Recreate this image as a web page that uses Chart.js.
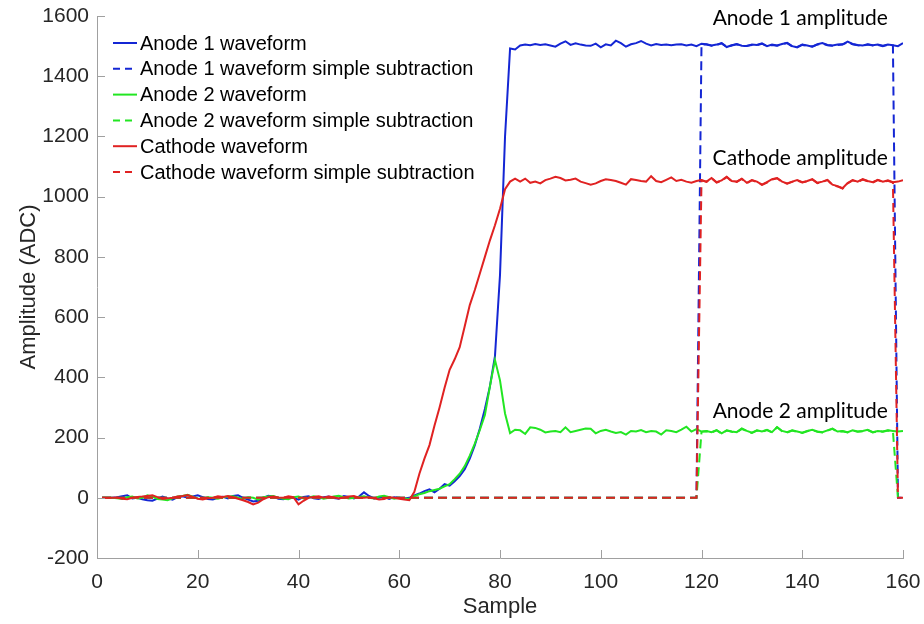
<!DOCTYPE html>
<html>
<head>
<meta charset="utf-8">
<script src="https://cdn.jsdelivr.net/npm/chart.js@4/dist/chart.umd.min.js"></script>
<style>
  html, body { margin: 0; padding: 0; background: #ffffff; }
  #wrap { width: 924px; height: 624px; }
</style>
</head>
<body>
<div id="wrap"><canvas id="c" width="924" height="624"></canvas></div>
<script>
// Sample index along the x axis (1..160)
const samples = Array.from({ length: 160 }, (_, i) => i + 1);

const xTicks = [0, 20, 40, 60, 80, 100, 120, 140, 160];
const yTicks = [-200, 0, 200, 400, 600, 800, 1000, 1200, 1400, 1600];

const seriesNames = [
  'Anode 1 waveform',
  'Anode 1 waveform simple subtraction',
  'Anode 2 waveform',
  'Anode 2 waveform simple subtraction',
  'Cathode waveform',
  'Cathode waveform simple subtraction'
];

// Anode 1 waveform (ADC)
const anode1 = [
  0, 0, 0, 2, 5, 8, -2, 0, -5, -8,
  -10, -3, 4, -2, -6, 2, 5, 0, 4, 8,
  2, -4, -6, 0, 3, -2, 6, 8, 0, -6,
  -12, -10, 0, 7, 4, -3, -5, 2, 0, -6,
  3, 5, -2, -4, 2, 4, -1, -3, 6, 3,
  -2, 4, 18, 6, -2, 0, 3, -4, 2, 0,
  -2, 0, 8, 14, 22, 28, 18, 30, 45, 40,
  55, 72, 95, 130, 175, 230, 295, 370, 470, 740,
  1200, 1492, 1489, 1502, 1505, 1503, 1507, 1504, 1506, 1502,
  1498, 1508, 1516, 1504, 1509, 1505, 1502, 1501, 1508, 1496,
  1506, 1502, 1518, 1510, 1498, 1506, 1510, 1517, 1508, 1502,
  1507, 1504, 1505, 1503, 1505, 1506, 1502, 1505, 1500, 1508,
  1506, 1502, 1505, 1510, 1497, 1503, 1507, 1501, 1500, 1505,
  1504, 1509, 1500, 1505, 1502, 1507, 1511, 1500, 1496, 1505,
  1502, 1498, 1506, 1510, 1504, 1502, 1505, 1506, 1515, 1507,
  1504, 1502, 1506, 1503, 1505, 1501, 1505, 1503, 1500, 1510
];

// Anode 1 after simple baseline subtraction (ADC)
const anode1Sub = [
  0, 0, 0, 0, 0, 0, 0, 0, 0, 0,
  0, 0, 0, 0, 0, 0, 0, 0, 0, 0,
  0, 0, 0, 0, 0, 0, 0, 0, 0, 0,
  0, 0, 0, 0, 0, 0, 0, 0, 0, 0,
  0, 0, 0, 0, 0, 0, 0, 0, 0, 0,
  0, 0, 0, 0, 0, 0, 0, 0, 0, 0,
  0, 0, 0, 0, 0, 0, 0, 0, 0, 0,
  0, 0, 0, 0, 0, 0, 0, 0, 0, 0,
  0, 0, 0, 0, 0, 0, 0, 0, 0, 0,
  0, 0, 0, 0, 0, 0, 0, 0, 0, 0,
  0, 0, 0, 0, 0, 0, 0, 0, 0, 0,
  0, 0, 0, 0, 0, 0, 0, 0, 0, 1506,
  1505, 1501, 1504, 1509, 1498, 1502, 1506, 1500, 1501, 1504,
  1503, 1508, 1500, 1504, 1501, 1506, 1510, 1499, 1497, 1504,
  1501, 1499, 1505, 1509, 1503, 1501, 1504, 1505, 1513, 1506,
  1503, 1501, 1505, 1502, 1504, 1500, 1504, 1502, 0, 0
];

// Anode 2 waveform (ADC)
const anode2 = [
  0, 0, 0, -2, -4, 2, 4, -2, 0, 8,
  4, -4, -6, -8, -2, 4, 6, 10, 4, -2,
  -4, 2, 0, -3, 2, 4, 5, 0, -4, 2,
  0, -6, 2, 4, 6, 0, -3, -5, 2, 4,
  -2, 0, 5, 2, -3, 0, 4, 7, 2, -2,
  0, 3, 5, 0, -2, 4, 7, 2, -3, 0,
  -2, -4, 5, 12, 16, 22, 26, 30, 38, 45,
  62, 80, 105, 140, 180, 225, 275, 370, 458, 390,
  280, 215, 226, 224, 212, 234, 232, 226, 217, 220,
  222, 218, 234, 218, 222, 226, 230, 229, 214, 222,
  226, 220, 215, 218, 210, 222, 220, 225, 218, 222,
  220, 210, 224, 222, 218, 226, 236, 220, 228, 220,
  222, 218, 225, 214, 224, 220, 218, 230, 222, 216,
  224, 220, 226, 218, 235, 222, 218, 224, 220, 216,
  222, 226, 220, 218, 224, 230, 220, 222, 218, 224,
  220, 222, 226, 218, 222, 220, 224, 222, 220, 222
];

// Anode 2 after simple baseline subtraction (ADC)
const anode2Sub = [
  0, 0, 0, 0, 0, 0, 0, 0, 0, 0,
  0, 0, 0, 0, 0, 0, 0, 0, 0, 0,
  0, 0, 0, 0, 0, 0, 0, 0, 0, 0,
  0, 0, 0, 0, 0, 0, 0, 0, 0, 0,
  0, 0, 0, 0, 0, 0, 0, 0, 0, 0,
  0, 0, 0, 0, 0, 0, 0, 0, 0, 0,
  0, 0, 0, 0, 0, 0, 0, 0, 0, 0,
  0, 0, 0, 0, 0, 0, 0, 0, 0, 0,
  0, 0, 0, 0, 0, 0, 0, 0, 0, 0,
  0, 0, 0, 0, 0, 0, 0, 0, 0, 0,
  0, 0, 0, 0, 0, 0, 0, 0, 0, 0,
  0, 0, 0, 0, 0, 0, 0, 0, 0, 219,
  221, 217, 224, 213, 223, 219, 217, 229, 221, 215,
  223, 219, 225, 217, 234, 221, 217, 223, 219, 215,
  221, 225, 219, 217, 223, 229, 219, 221, 217, 223,
  219, 221, 225, 217, 221, 219, 223, 221, 0, 0
];

// Cathode waveform (ADC)
const cathode = [
  0, 0, 0, 1, -3, -5, 0, 3, 4, 6,
  8, 2, -4, -2, 0, 4, 6, 9, 3, -3,
  -6, -2, 0, 5, 3, 6, 2, -3, -8, -14,
  -22, -16, -5, 2, 4, 1, 0, 5, 2, -22,
  -10, 0, 3, 5, 0, 4, 2, -2, 1, 4,
  6, 0, 0, 2, -2, -6, -4, 2, 0, -3,
  -6, -8, 20, 80, 130, 175, 240, 300, 365, 425,
  460, 500, 570, 640, 690, 745, 800, 855, 905, 960,
  1025, 1050, 1060, 1050, 1060, 1046, 1050, 1044, 1055, 1060,
  1066, 1062, 1054, 1056, 1060, 1050, 1045, 1040, 1044, 1052,
  1058, 1055, 1052, 1046, 1040, 1058, 1055, 1052, 1050, 1068,
  1052, 1048, 1056, 1064, 1052, 1056, 1050, 1046, 1052, 1055,
  1050, 1062, 1048, 1054, 1066, 1052, 1050, 1060, 1046, 1055,
  1050, 1040, 1048, 1058, 1062, 1050, 1044, 1050, 1055, 1048,
  1052, 1058, 1046, 1050, 1056, 1040, 1035, 1028, 1045, 1055,
  1050, 1058, 1052, 1048, 1056, 1050, 1054, 1048, 1050, 1055
];

// Cathode after simple baseline subtraction (ADC)
const cathodeSub = [
  0, 0, 0, 0, 0, 0, 0, 0, 0, 0,
  0, 0, 0, 0, 0, 0, 0, 0, 0, 0,
  0, 0, 0, 0, 0, 0, 0, 0, 0, 0,
  0, 0, 0, 0, 0, 0, 0, 0, 0, 0,
  0, 0, 0, 0, 0, 0, 0, 0, 0, 0,
  0, 0, 0, 0, 0, 0, 0, 0, 0, 0,
  0, 0, 0, 0, 0, 0, 0, 0, 0, 0,
  0, 0, 0, 0, 0, 0, 0, 0, 0, 0,
  0, 0, 0, 0, 0, 0, 0, 0, 0, 0,
  0, 0, 0, 0, 0, 0, 0, 0, 0, 0,
  0, 0, 0, 0, 0, 0, 0, 0, 0, 0,
  0, 0, 0, 0, 0, 0, 0, 0, 0, 1054,
  1049, 1061, 1047, 1053, 1065, 1051, 1049, 1059, 1045, 1054,
  1049, 1039, 1047, 1057, 1061, 1049, 1043, 1049, 1054, 1047,
  1051, 1057, 1045, 1049, 1055, 1039, 1034, 1027, 1044, 1054,
  1049, 1057, 1051, 1047, 1055, 1049, 1053, 1047, 0, 0
];

// Amplitude labels placed in data coordinates: [text, sample, ADC]
const amplitudeLabels = [
  ['Anode 1 amplitude', 139.6, 1593],
  ['Cathode amplitude', 139.6, 1128],
  ['Anode 2 amplitude', 139.6, 286]
];

const BLUE = '#1426d4';
const GREEN = '#22e622';
const RED = '#e02222';
const DASH = [9, 5];

const seriesValues = [anode1, anode1Sub, anode2, anode2Sub, cathode, cathodeSub];
const seriesColors = [BLUE, BLUE, GREEN, GREEN, RED, RED];
const seriesDashed = [false, true, false, true, false, true];

const datasets = seriesValues.map((vals, i) => ({
  label: seriesNames[i],
  data: vals,
  borderColor: seriesColors[i],
  backgroundColor: seriesColors[i],
  borderWidth: 2,
  borderDash: seriesDashed[i] ? DASH : [],
  pointRadius: 0,
  tension: 0,
  fill: false,
  // later series are painted over earlier ones
  order: seriesValues.length - 1 - i
}));

const AXIS_GRAY = '#a0a0a0';
const TEXT_DARK = '#262626';
const SANS = '"Liberation Sans", Arial, sans-serif';
const CLEAR = 'rgba(0,0,0,0)';

// Short tick marks pointing into the plot area
const innerTicks = {
  id: 'innerTicks',
  afterDraw(chart) {
    const { ctx, chartArea: a, scales: { x, y } } = chart;
    ctx.save();
    ctx.strokeStyle = AXIS_GRAY;
    ctx.lineWidth = 1;
    ctx.beginPath();
    yTicks.forEach(v => {
      const py = Math.round(y.getPixelForValue(v)) + 0.5;
      ctx.moveTo(a.left, py);
      ctx.lineTo(a.left + 8, py);
    });
    xTicks.forEach(v => {
      const px = Math.round(x.getPixelForValue(v)) + 0.5;
      ctx.moveTo(px, a.bottom);
      ctx.lineTo(px, a.bottom - 8);
    });
    ctx.stroke();
    ctx.restore();
  }
};

// Legend in the upper-left corner of the plot area
const cornerLegend = {
  id: 'cornerLegend',
  afterDraw(chart) {
    const { ctx, chartArea: a } = chart;
    ctx.save();
    ctx.font = '20px ' + SANS;
    ctx.textBaseline = 'middle';
    ctx.textAlign = 'left';
    const x0 = a.left + 16;
    const x1 = a.left + 40;
    let yy = 43;
    chart.data.datasets.forEach(ds => {
      const dashed = ds.borderDash && ds.borderDash.length;
      ctx.strokeStyle = ds.borderColor;
      ctx.lineWidth = 2;
      ctx.setLineDash(dashed ? [7, 5] : []);
      ctx.beginPath();
      ctx.moveTo(x0, yy);
      ctx.lineTo(x1 - (dashed ? 4 : 0), yy);
      ctx.stroke();
      ctx.setLineDash([]);
      ctx.fillStyle = '#000000';
      ctx.fillText(ds.label, x1 + 3, yy + 1);
      yy += 25.8;
    });
    ctx.restore();
  }
};

// Amplitude annotations
const amplitudeText = {
  id: 'amplitudeText',
  afterDraw(chart) {
    const { ctx, scales: { x, y } } = chart;
    ctx.save();
    ctx.font = '21px Lato, "Open Sans", sans-serif';
    ctx.fillStyle = '#000000';
    ctx.textAlign = 'center';
    ctx.textBaseline = 'middle';
    amplitudeLabels.forEach(([t, sx, sv]) => {
      ctx.fillText(t, x.getPixelForValue(sx), y.getPixelForValue(sv));
    });
    ctx.restore();
  }
};

new Chart(document.getElementById('c'), {
  type: 'line',
  data: { labels: samples, datasets },
  options: {
    responsive: false,
    animation: false,
    events: [],
    layout: { padding: { top: 16, right: 21, left: 0, bottom: 0 } },
    plugins: {
      legend: { display: false },
      tooltip: { enabled: false }
    },
    scales: {
      x: {
        type: 'linear',
        min: 0,
        max: 160,
        afterFit(scale) { scale.height = 66; },
        afterBuildTicks(scale) { scale.ticks = xTicks.map(v => ({ value: v })); },
        grid: { display: true, drawOnChartArea: false, drawTicks: true, tickLength: 12, tickColor: CLEAR, color: CLEAR },
        border: { display: true, color: AXIS_GRAY, width: 1 },
        ticks: { color: TEXT_DARK, font: { family: SANS, size: 21 }, padding: 0, maxRotation: 0,
                 callback: v => String(v) },
        title: { display: true, text: 'Sample', color: TEXT_DARK, font: { family: SANS, size: 22 }, padding: { top: 0, bottom: 4 } }
      },
      y: {
        type: 'linear',
        min: -200,
        max: 1600,
        afterFit(scale) { scale.width = 97; },
        afterBuildTicks(scale) { scale.ticks = yTicks.map(v => ({ value: v })); },
        grid: { display: true, drawOnChartArea: false, drawTicks: true, tickLength: 8, tickColor: CLEAR, color: CLEAR },
        border: { display: true, color: AXIS_GRAY, width: 1 },
        ticks: { color: TEXT_DARK, font: { family: SANS, size: 21 }, padding: 0,
                 callback: v => String(v) },
        title: { display: true, text: 'Amplitude (ADC)', color: TEXT_DARK, font: { family: SANS, size: 22 }, padding: { top: 16, bottom: 0 } }
      }
    }
  },
  plugins: [innerTicks, cornerLegend, amplitudeText]
});
</script>
</body>
</html>
